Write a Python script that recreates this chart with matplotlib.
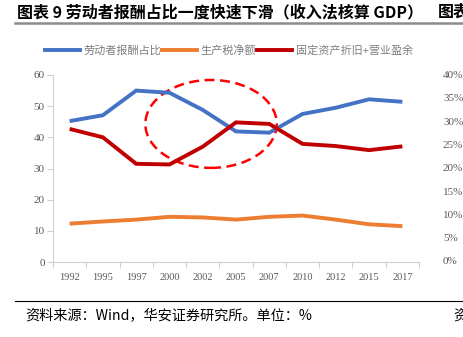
import matplotlib
matplotlib.use("Agg")
import matplotlib.pyplot as plt
from matplotlib.patches import Ellipse
from matplotlib.lines import Line2D
import numpy as np

plt.rcParams['font.family'] = ['Noto Sans CJK SC', 'DejaVu Sans']

years = ["1992", "1995", "1997", "2000", "2002", "2005", "2007", "2010", "2012", "2015", "2017"]
labor = [45.2, 47.1, 55.0, 54.3, 48.8, 41.9, 41.5, 47.5, 49.5, 52.2, 51.4]
tax = [12.3, 13.0, 13.6, 14.5, 14.3, 13.6, 14.5, 14.9, 13.6, 12.1, 11.5]
capital = [42.7, 40.0, 31.5, 31.3, 37.0, 44.8, 44.3, 37.9, 37.2, 35.9, 37.1]
series_names = ["劳动者报酬占比", "生产税净额", "固定资产折旧+营业盈余"]
yticks = [0, 10, 20, 30, 40, 50, 60]
right_ticks = ["40%", "35%", "30%", "25%", "20%", "15%", "10%", "5%", "0%"]

W, H = 463, 337
fig = plt.figure(figsize=(W / 100, H / 100), dpi=100)

def fx(px):
    return px / W

def fy(py):
    return 1 - py / H

ax = fig.add_axes([fx(53), fy(262), fx(419) - fx(53), fy(75) - fy(262)])
x = np.arange(len(years))
colors = ["#4472C4", "#ED7D31", "#C00000"]
for vals, c in zip([labor, tax, capital], colors):
    ax.plot(x, vals, color=c, lw=2.8, solid_capstyle='butt', solid_joinstyle='miter')

ax.set_xlim(-0.5, len(years) - 0.5)
ax.set_ylim(0, 60)
ax.set_yticks(yticks)
ax.set_yticklabels([str(v) for v in yticks], family='Liberation Serif', fontsize=8, color='#595959')
ax.set_xticks(x)
ax.set_xticklabels(years, family='Liberation Serif', fontsize=7.5, color='#595959')
ax.set_xticks(np.arange(-0.5, len(years), 1.0), minor=True)
ax.tick_params(axis='x', which='major', length=0, pad=8)
ax.tick_params(axis='x', which='minor', length=4, color='#d0d0d0', width=0.8)
ax.tick_params(axis='y', length=4, color='#d0d0d0', width=0.8, pad=2)
for s in ['top', 'right']:
    ax.spines[s].set_visible(False)
for s in ['left', 'bottom']:
    ax.spines[s].set_color('#d0d0d0')
    ax.spines[s].set_linewidth(0.8)

ell = Ellipse((4.25, 44.3), 3.95, 28.2, fill=False, edgecolor='#FF0000', lw=1.8,
              linestyle=(0, (4, 2.2)))
ax.add_patch(ell)

# Legend
handles = [Line2D([0], [0], color=c, lw=2.8) for c in colors]
leg = fig.legend(handles, series_names, loc='center', bbox_to_anchor=(fx(229), fy(50)),
                 ncol=3, frameon=False, fontsize=8, handlelength=3.15, handletextpad=0.3,
                 columnspacing=0.1, labelcolor='#7f7f7f')

# Title
fig.text(fx(17), fy(12), "图表 9 劳动者报酬占比一度快速下滑（收入法核算 GDP）", fontsize=11.5,
         fontweight='bold', va='center', ha='left', color='black')
fig.text(fx(438), fy(12), "图表", fontsize=11.5, fontweight='bold', va='center', ha='left',
         color='black')
fig.add_artist(Line2D([fx(15), 1], [fy(23), fy(23)], color='#8c8c8c', lw=1.8))

# Footer
fig.add_artist(Line2D([fx(15), 1], [fy(301), fy(301)], color='black', lw=0.8))
fig.text(fx(25), fy(316), "资料来源：Wind，华安证券研究所。单位：%", fontsize=10.2,
         va='center', ha='left', color='black')
fig.text(fx(453), fy(316), "资", fontsize=10.2, va='center', ha='left', color='black')

# Partial neighbouring chart axis labels
for i, t in enumerate(right_ticks):
    py = 75.5 + i * (262 - 75.5) / 8
    fig.text(fx(443), fy(py), t, family='Liberation Serif', fontsize=8, color='#595959',
             va='center', ha='left')

fig.savefig("out.png", dpi=100)
